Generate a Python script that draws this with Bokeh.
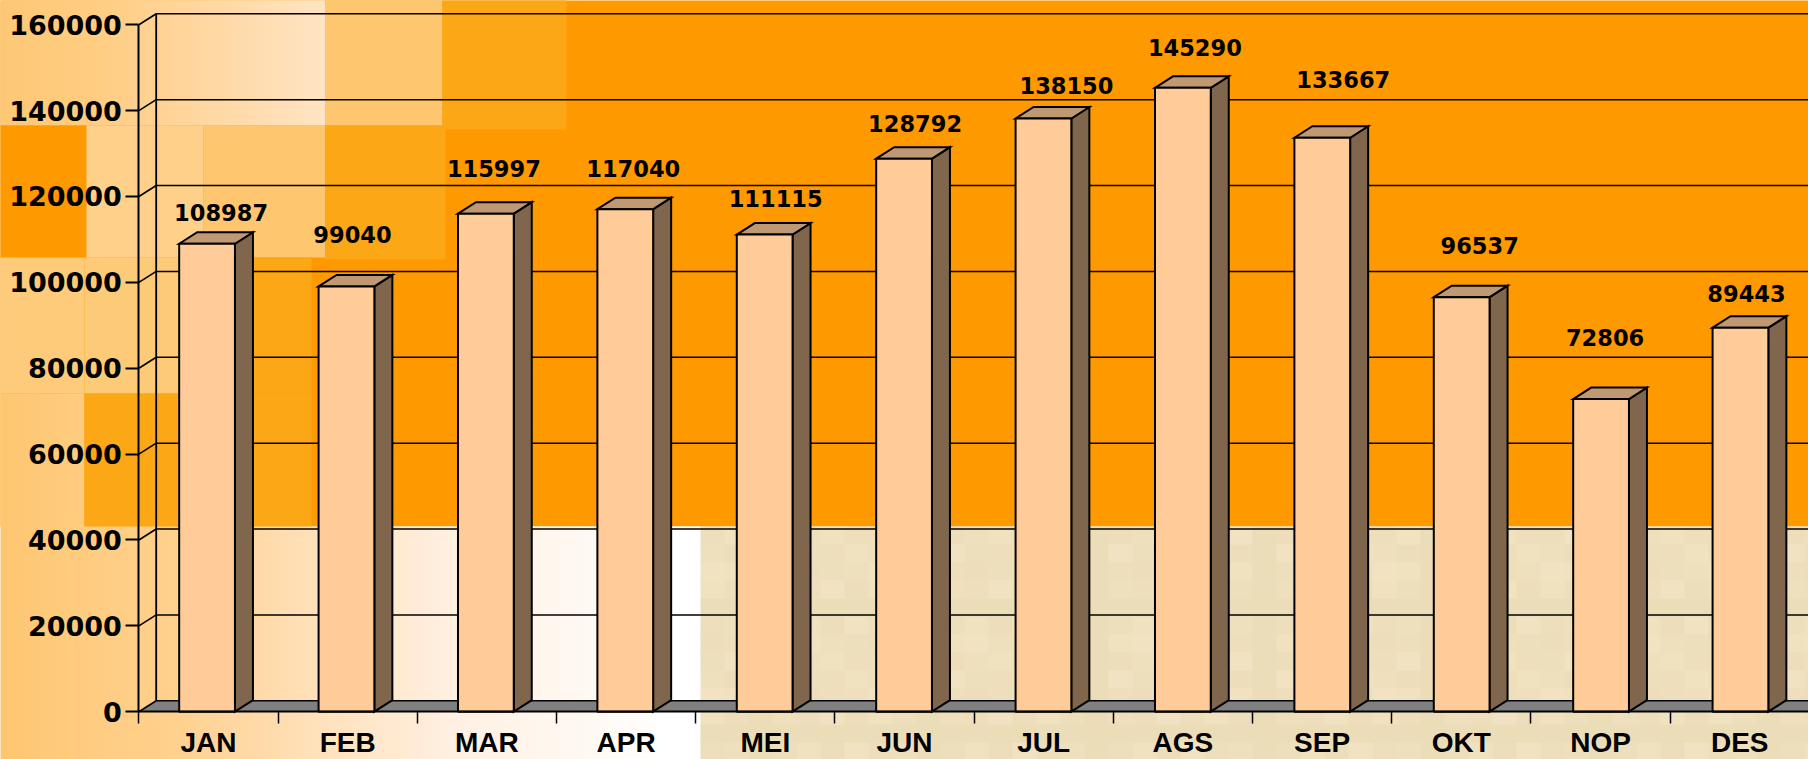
from bokeh.core.properties import value
from bokeh.embed import file_html
from bokeh.models import BasicTickFormatter, ColumnDataSource, FixedTicker, LinearAxis, Range1d
from bokeh.plotting import figure
from bokeh.resources import INLINE

# ---------- data ----------
MONTHS = ["JAN", "FEB", "MAR", "APR", "MEI", "JUN", "JUL", "AGS", "SEP", "OKT", "NOP", "DES"]
VALUES = [108987, 99040, 115997, 117040, 111115, 128792, 138150, 145290, 133667, 96537, 72806, 89443]
Y_TICKS = [0, 20000, 40000, 60000, 80000, 100000, 120000, 140000, 160000]

# ---------- value-label nudges (px, relative to bar top centre) ----------
LABEL_DX = [14, 6, 8, 8, 11, 11, 23, 12, 21, 18, 4, 6]
LABEL_DY = [-31, -52, -45, -41, -36, -35, -33, -40, -58, -52, -62, -34]

# ---------- geometry ----------
FIG_W, FIG_H = 1808, 759
PAGE = 0
X0_PX, Y0_PX = 138.4, 711.2       # page position of the chart origin
UX = 139.4                        # px per category
TICK_PITCH = 139.2 / UX           # the axis ticks run a little tighter than the bars
UY = 687.0 / 160000               # px per unit value
BAR_L, BAR_W = 0.289, 0.400
BAR_DX, BAR_DY = 18 / UX, 11.5 / UY
WALL_DX, WALL_DY = 17.3 / UX, 10.9 / UY
N = len(MONTHS)


def dx(px):
    return (px - X0_PX) / UX


def dy(py):
    return (Y0_PX - py) / UY


# ---------- colours ----------
FRONT, SIDE, TOP = "#FFCC99", "#80664D", "#BF9973"
ORANGE, AMBER, SAND = "#FF9900", "#FCA716", "#FDC66F"
PALE, FLOOR = "#FFD08A", "#808080"

p = figure(
    width=FIG_W, height=FIG_H, output_backend="svg", toolbar_location=None,
    x_range=Range1d(dx(PAGE), dx(PAGE + FIG_W)),
    y_range=Range1d(dy(PAGE + FIG_H), dy(PAGE)),
    min_border=0, x_axis_type=None, y_axis_type=None,
    outline_line_color=None, border_fill_color=None, background_fill_color=None,
)
p.grid.visible = False


def box(x0, y0, x1, y1, color):
    x0 = -3 if x0 <= 0 else x0
    y0 = -3 if y0 <= 0 else y0
    p.quad(left=dx(x0), right=dx(x1), top=dy(y0), bottom=dy(y1),
           fill_color=color, line_color=None, level="underlay")


def mix(stops, x):
    for (a, ca), (b, cb) in zip(stops, stops[1:]):
        if a <= x <= b:
            t = (x - a) / (b - a)
            return "#%02X%02X%02X" % tuple(round(u + (v - u) * t) for u, v in zip(ca, cb))
    return "#%02X%02X%02X" % stops[-1][1]


# ---------- background decoration ----------
BAND_Y = 526
box(0, 0, 1810, BAND_Y, ORANGE)
LOW_STOPS = [(0, (253, 199, 114)), (84, (255, 204, 128)), (170, (255, 208, 142)), (324, (255, 226, 190)),
             (450, (255, 240, 226)), (600, (255, 250, 245)), (660, (255, 255, 255)), (700, (255, 255, 255))]
TOP_STOPS = [(0, (253, 200, 118)), (84, (255, 204, 128)), (190, (255, 214, 158)), (324, (255, 228, 196))]
STEP = 8
for x in range(0, 700, STEP):
    box(x, BAND_Y, min(x + STEP + 1, 700), 762, mix(LOW_STOPS, x))
for x in range(0, 324, STEP):
    box(x, 0, min(x + STEP + 1, 324.5), 125, mix(TOP_STOPS, x))
box(324.5, 0, 442, 125, SAND)
box(442, 0, 566, 129, AMBER)
box(0, 125, 86, 257, ORANGE)
box(86, 125, 203, 257, PALE)
box(203, 125, 324.5, 257, SAND)
box(324.5, 125, 445, 259, AMBER)
box(0, 257, 84, 393, "#FDCB7A")
box(84, 257, 203, 393, "#FDCB78")
box(203, 257, 311, 393, AMBER)
for x in range(0, 84, STEP):
    box(x, 393, min(x + STEP + 1, 84), BAND_Y, mix(LOW_STOPS, x))
box(84, 393, 311, BAND_Y, AMBER)

# parchment: a base tone with a faint, fine mottling
TAN = ["#EEDFBC", "#F0E1BF", "#EDDDBA", "#F1E3C2", "#EEDEBB", "#EFE0BD", "#ECDDB9"]
TILE_W, TILE_H = 24, 18
tx0, tx1, ty0, ty1, tcol = [], [], [], [], []
for ix, x in enumerate(range(700, 1810, TILE_W)):
    for iy, y in enumerate(range(BAND_Y, 762, TILE_H)):
        tx0.append(dx(x))
        tx1.append(dx(x + TILE_W + 1))
        ty0.append(dy(y))
        ty1.append(dy(y + TILE_H + 1))
        tcol.append(TAN[(ix * 3 + iy * 5 + ix * iy) % len(TAN)])
p.quad(left=tx0, right=tx1, top=ty0, bottom=ty1, fill_color=tcol, line_color=None, level="underlay")

# ---------- 3-D walls and grid ----------
x_end = dx(PAGE + FIG_W)
p.patch([0, WALL_DX, x_end, x_end], [0, WALL_DY, WALL_DY, 0], fill_color=FLOOR, line_color=None)
p.segment(x0=[WALL_DX] * len(Y_TICKS), x1=[x_end] * len(Y_TICKS),
          y0=[t + WALL_DY for t in Y_TICKS], y1=[t + WALL_DY for t in Y_TICKS],
          line_color="black", line_width=1.6)
p.segment(x0=[0] * len(Y_TICKS), x1=[WALL_DX] * len(Y_TICKS),
          y0=Y_TICKS, y1=[t + WALL_DY for t in Y_TICKS], line_color="black", line_width=1.6)
p.line([WALL_DX, WALL_DX], [WALL_DY, Y_TICKS[-1] + WALL_DY], line_color="black", line_width=1.8)

# ---------- bars ----------
left = [i + BAR_L for i in range(N)]
right = [x + BAR_W for x in left]
side_xs = [[r, r + BAR_DX, r + BAR_DX, r] for r in right]
side_ys = [[0, BAR_DY, v + BAR_DY, v] for v in VALUES]
top_xs = [[l, l + BAR_DX, r + BAR_DX, r] for l, r in zip(left, right)]
top_ys = [[v, v + BAR_DY, v + BAR_DY, v] for v in VALUES]
p.patches(side_xs, side_ys, fill_color=SIDE, line_color="black", line_width=2, line_join="miter")
p.patches(top_xs, top_ys, fill_color=TOP, line_color="black", line_width=2, line_join="miter")
p.quad(left=left, right=right, bottom=[0] * N, top=VALUES, fill_color=FRONT, line_color="black", line_width=2)

# ---------- value labels ----------
labels = ColumnDataSource(dict(
    x=[l + BAR_W / 2 for l in left], y=VALUES, text=[str(v) for v in VALUES],
    dx=LABEL_DX, dy=LABEL_DY,
))
p.text(x="x", y="y", text="text", x_offset="dx", y_offset="dy", source=labels,
       text_font=value("DejaVu Sans"), text_font_style="bold", text_font_size="22.5px",
       text_align="center", text_baseline="middle", text_color="black")

# ---------- axes ----------
yaxis = LinearAxis(fixed_location=0, bounds=(0, Y_TICKS[-1]), ticker=FixedTicker(ticks=Y_TICKS),
                   formatter=BasicTickFormatter(use_scientific=False))
yaxis.axis_line_color = "black"
yaxis.axis_line_width = 2
yaxis.major_tick_line_color = "black"
yaxis.major_tick_line_width = 2
yaxis.major_tick_out = 13
yaxis.major_tick_in = 0
yaxis.minor_tick_line_color = None
yaxis.major_label_standoff = 4
yaxis.major_label_text_font = "DejaVu Sans"
yaxis.major_label_text_font_style = "bold"
yaxis.major_label_text_font_size = "27px"
yaxis.major_label_text_color = "black"
p.add_layout(yaxis, "left")

centers = [(i + 0.5) * TICK_PITCH for i in range(N)]
xaxis = LinearAxis(fixed_location=0, bounds=(0, N),
                   ticker=FixedTicker(ticks=centers, minor_ticks=[i * TICK_PITCH for i in range(N)]))
xaxis.major_label_overrides = dict(zip(centers, MONTHS))
xaxis.axis_line_color = "black"
xaxis.axis_line_width = 2
xaxis.major_tick_line_color = None
xaxis.major_tick_out = 0
xaxis.major_tick_in = 0
xaxis.minor_tick_line_color = "black"
xaxis.minor_tick_line_width = 1.5
xaxis.minor_tick_out = 12
xaxis.minor_tick_in = 0
xaxis.major_label_standoff = 3
xaxis.major_label_text_font = "Liberation Sans"
xaxis.major_label_text_font_style = "bold"
xaxis.major_label_text_font_size = "28px"
xaxis.major_label_text_color = "black"
p.add_layout(xaxis, "below")

open("out.html", "w").write(file_html(p, INLINE))
